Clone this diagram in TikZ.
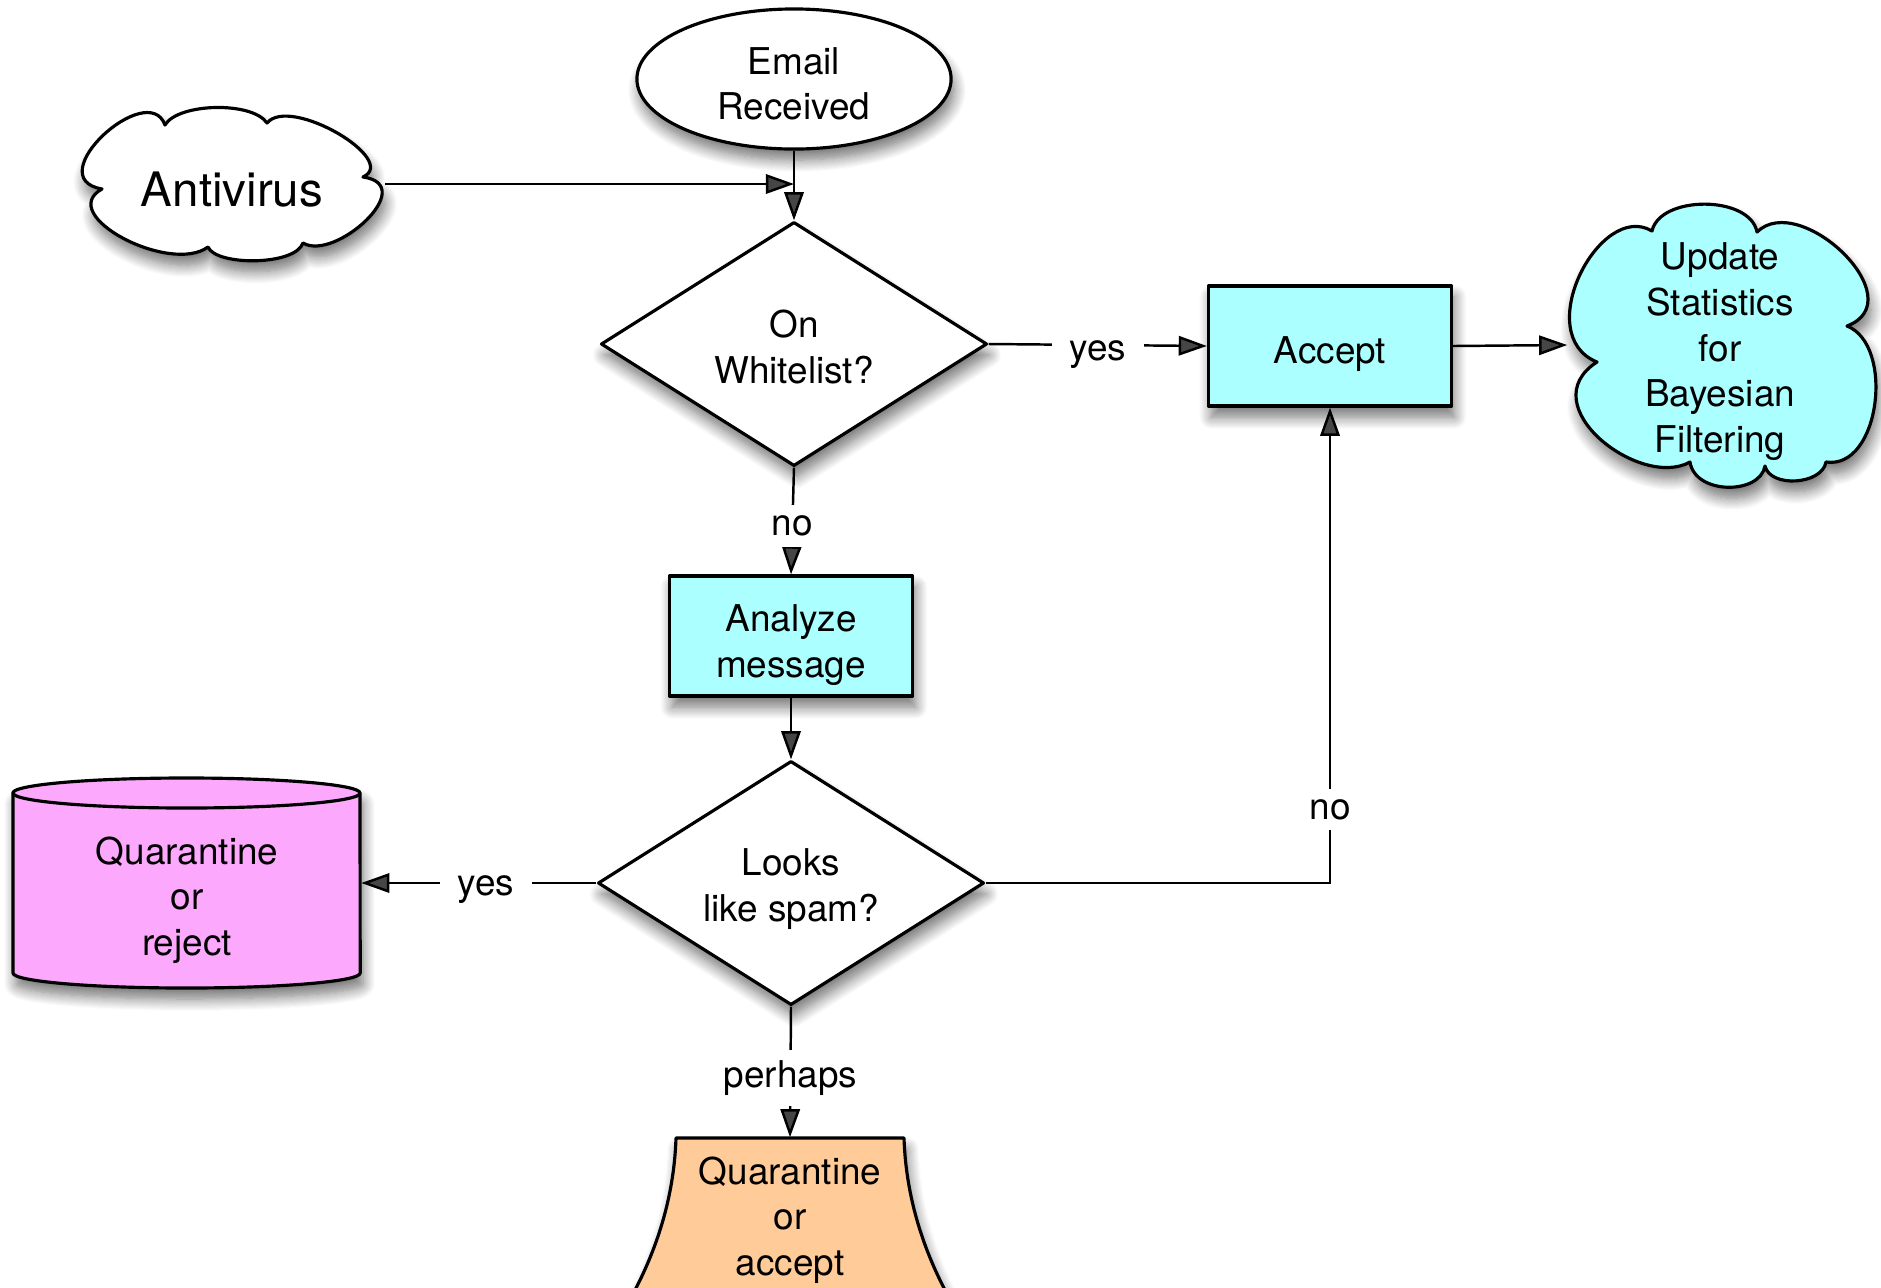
\documentclass[tikz,border=0pt]{standalone}
\usepackage{fontspec}
\setmainfont{TeX Gyre Heros}
\usetikzlibrary{shapes.geometric,arrows.meta,shadows.blur}
\definecolor{cyanfill}{RGB}{172,255,255}
\definecolor{pinkfill}{RGB}{252,168,252}
\definecolor{orangefill}{RGB}{255,204,153}
\begin{document}
\begin{tikzpicture}[x=0.01cm,y=-0.01cm,
  every node/.style={font=\fontsize{10.5}{13}\selectfont, align=center},
  border/.style={draw=black, line width=0.9pt, line join=round},
  sh/.style={blur shadow={shadow xshift=0.3mm, shadow yshift=-1.1mm, shadow blur radius=1.2mm, shadow blur steps=12, shadow opacity=55}},
  arr/.style={line width=0.7pt, -{Triangle[length=8pt,width=5.5pt]}},
  lbl/.style={fill=white, inner xsep=5pt, inner ysep=3pt},
  txt/.style={align=center, inner sep=0},
  dia/.style={diamond, border, fill=white, sh, minimum width=3.86cm, minimum height=2.44cm, inner sep=0},
  boxn/.style={rectangle, border, fill=cyanfill, sh, minimum width=2.43cm, minimum height=1.20cm, inner sep=0},
]
\useasboundingbox (0,0) rectangle (1881,1287);

% cylinder (Quarantine or reject)
\path[border, fill=pinkfill, sh] (13,793) -- (13,973)
  arc[start angle=180,end angle=360,x radius=1.735cm,y radius=0.15cm]
  -- (360,793)
  arc[start angle=0,end angle=180,x radius=1.735cm,y radius=0.15cm] -- cycle;
\draw[border] (13,793) arc[start angle=180,end angle=360,x radius=1.735cm,y radius=0.15cm];

% flared shape (Quarantine or accept)
\path[border, fill=orangefill, sh] (676,1138) -- (904,1138)
  .. controls (906,1200) and (925,1252) .. (946,1292) -- (634,1292)
  .. controls (655,1252) and (674,1200) .. (676,1138) -- cycle;

% Antivirus cloud
\path[border, fill=white, sh] (102,189)
  .. controls (38,178) and (148,78) .. (165,125)
  .. controls (178,103) and (252,101) .. (267,123)
  .. controls (290,95) and (400,160) .. (363,177)
  .. controls (420,185) and (335,262) .. (303,243)
  .. controls (295,266) and (216,266) .. (208,247)
  .. controls (170,275) and (55,215) .. (102,189) -- cycle;

% Update cloud
\path[border, fill=cyanfill, sh] (1597,362)
  .. controls (1530,335) and (1600,200) .. (1652,231)
  .. controls (1660,195) and (1750,195) .. (1757,232)
  .. controls (1800,190) and (1915,300) .. (1847,326)
  .. controls (1895,345) and (1880,470) .. (1826,462)
  .. controls (1822,485) and (1770,488) .. (1765,466)
  .. controls (1760,495) and (1695,495) .. (1690,462)
  .. controls (1640,490) and (1530,405) .. (1597,362) -- cycle;

\node[ellipse, border, fill=white, sh, minimum width=3.14cm, minimum height=1.40cm, inner sep=0,
  label={[txt, yshift=-1.4pt]center:Email\\Received}] (email) at (794,79) {};
\node[rectangle, minimum width=3.05cm, minimum height=1.48cm, inner sep=0,
  label={[txt, yshift=-1.7pt, font=\fontsize{13.5}{16}\selectfont]center:Antivirus}] (av) at (232,184) {};
\node[dia, label={[txt, yshift=-0.8pt]center:On\\Whitelist?}] (wl) at (794,344) {};
\node[boxn, label={[txt, yshift=-2.4pt]center:Accept}] (acc) at (1330,346) {};
\node[rectangle, minimum width=3.04cm, minimum height=2.82cm, inner sep=0,
  label={[txt, yshift=-1.9pt]center:Update\\Statistics\\for\\Bayesian\\Filtering}] (upd) at (1720,345) {};
\node[boxn, label={[txt, yshift=-2.6pt]center:Analyze\\message}] (an) at (791,636) {};
\node[dia, label={[txt, yshift=-1.7pt]center:Looks\\like spam?}] (spam) at (791,883) {};
\node[minimum width=3.47cm, inner sep=0] (cyl) at (187,900) {Quarantine\\or\\reject};
\node[minimum width=2.28cm, minimum height=1.64cm, inner sep=0] (qa) at (790,1220) {Quarantine\\or\\accept};

\coordinate (j) at (794,184);
\draw[arr] (av.east) -- (j);
\draw[arr] (email) -- (wl);
\draw[arr] (wl.east) -- node[lbl, yshift=-2.6pt]{yes} (acc.west);
\draw[arr] (acc.east) -- (upd.west);
\draw[arr] (wl.south) -- node[lbl, yshift=-1.4pt]{no} (an.north);
\draw[arr] (an) -- (spam);
\draw[arr] (spam.west) -- node[lbl, pos=0.47, yshift=-2pt]{yes} (spam.west -| cyl.east);
\draw[arr] (spam.east) -| node[lbl, pos=0.58, yshift=-0.7pt]{no} (acc.south);
\draw[arr] (spam.south) -- node[lbl, yshift=-1.7pt]{perhaps} (qa.north);
\end{tikzpicture}
\end{document}
